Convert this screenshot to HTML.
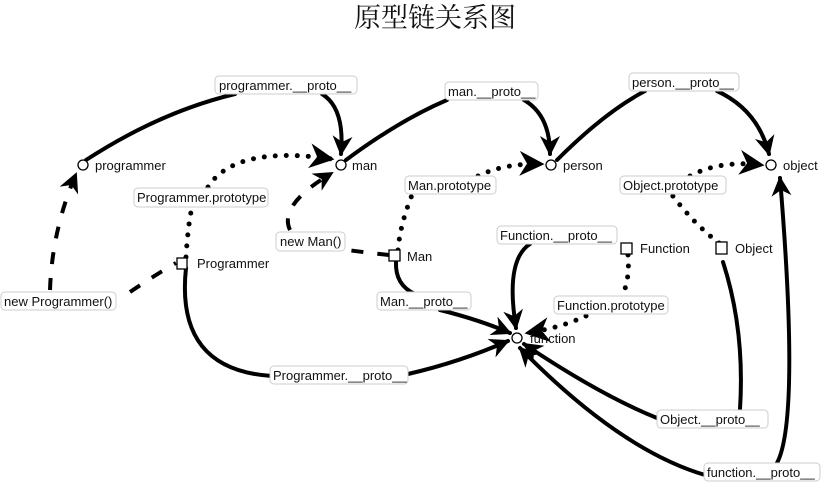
<!DOCTYPE html>
<html><head><meta charset="utf-8"><style>
html,body{margin:0;padding:0;background:#fff;}
svg{display:block;}
text{font-family:"Liberation Sans","DejaVu Sans",sans-serif;font-size:13px;fill:#111;}
.lb rect{fill:#fff;stroke:#ccc;stroke-width:1;}
.s{fill:none;stroke:#000;stroke-width:4;stroke-linecap:round;}
.d{fill:none;stroke:#000;stroke-width:4;stroke-dasharray:12 14;}
.o{fill:none;stroke:#000;stroke-width:5;stroke-dasharray:0 11;stroke-linecap:round;}
</style></head><body>
<svg width="822" height="482" viewBox="0 0 822 482" xmlns="http://www.w3.org/2000/svg">
<defs>
<marker id="a" viewBox="0 0 10 10" refX="9" refY="5" markerWidth="5" markerHeight="5" orient="auto" markerUnits="strokeWidth">
<path d="M0,0 L10,5 L0,10 L3,5 z" fill="#000"/></marker>
</defs>
<text x="435" y="27" text-anchor="middle" style="font-family:'Liberation Serif','Noto Serif CJK SC',serif;font-size:27px">原型链关系图</text>

<path class="s" d="M86,160 Q160,112 235,94"/>
<path class="s" d="M322,94 Q345,108 341,154" marker-end="url(#a)"/>
<path class="s" d="M346,160 Q400,120 447,100"/>
<path class="s" d="M524,100 Q550,115 550,154" marker-end="url(#a)"/>
<path class="s" d="M557,160 Q605,112 645,91"/>
<path class="s" d="M717,91 Q758,110 769,154" marker-end="url(#a)"/>
<path class="s" d="M396,262 Q395,285 415,294"/>
<path class="s" d="M440,310 Q480,320 510,333" marker-end="url(#a)"/>
<path class="s" d="M186,268 Q175,370 272,376"/>
<path class="s" d="M408,374 Q460,362 508,341" marker-end="url(#a)"/>
<path class="s" d="M530,244 Q505,260 516,328" marker-end="url(#a)"/>
<path class="s" d="M723,262 Q745,330 740,409"/>
<path class="s" d="M657,418 Q600,395 524,344" marker-end="url(#a)"/>
<path class="s" d="M705,475 Q620,450 520,348" marker-end="url(#a)"/>
<path class="s" d="M777,463 Q800,420 780,178" marker-end="url(#a)"/>

<path class="d" d="M50,290 Q52,230 76,174" marker-end="url(#a)"/>
<path class="d" d="M130,292 Q155,275 176,263"/>
<path class="d" d="M389,255 Q370,253 347,250"/>
<path class="d" d="M290,230 Q278,205 332,173" marker-end="url(#a)"/>

<path class="o" d="M186,257 Q188,225 192,207"/>
<path class="o" d="M208,187 Q235,145 332,159" marker-end="url(#a)"/>
<path class="o" d="M398,250 Q400,225 412,195"/>
<path class="o" d="M478,176 Q505,163 542,164" marker-end="url(#a)"/>
<path class="o" d="M628,255 Q630,280 622,296"/>
<path class="o" d="M586,316 Q560,328 527,333" marker-end="url(#a)"/>
<path class="o" d="M719,243 Q695,225 672,195"/>
<path class="o" d="M690,176 Q720,160 762,165" marker-end="url(#a)"/>

<g fill="#fff" stroke="#000" stroke-width="1.3">
<circle cx="83" cy="165" r="5"/>
<circle cx="341" cy="165" r="5"/>
<circle cx="551" cy="165" r="5"/>
<circle cx="771" cy="165" r="5"/>
<circle cx="517" cy="338" r="5"/>
<rect x="177" y="258" width="10" height="11"/>
<rect x="389" y="250" width="11" height="11"/>
<rect x="621" y="243" width="11" height="11"/>
<rect x="716" y="242" width="11" height="12"/>
</g>
<text x="95" y="170">programmer</text>
<text x="352" y="170">man</text>
<text x="563" y="170">person</text>
<text x="783" y="170">object</text>
<text x="530" y="343">function</text>
<text x="197" y="268">Programmer</text>
<text x="407" y="261">Man</text>
<text x="640" y="253">Function</text>
<text x="735" y="253">Object</text>

<g class="lb">
<rect x="215" y="76" width="142" height="18" rx="4"/><text x="219" y="90">programmer.__proto__</text>
<rect x="445" y="82" width="93" height="18" rx="4"/><text x="448" y="96">man.__proto__</text>
<rect x="629" y="73" width="110" height="18" rx="4"/><text x="632" y="87">person.__proto__</text>
<rect x="134" y="188" width="134" height="19" rx="4"/><text x="137" y="202">Programmer.prototype</text>
<rect x="405" y="176" width="91" height="18" rx="4"/><text x="408" y="190">Man.prototype</text>
<rect x="620" y="176" width="106" height="18" rx="4"/><text x="623" y="190">Object.prototype</text>
<rect x="276" y="232" width="69" height="19" rx="4"/><text x="280" y="246">new Man()</text>
<rect x="497" y="226" width="120" height="18" rx="4"/><text x="500" y="240">Function.__proto__</text>
<rect x="1" y="292" width="115" height="18" rx="4"/><text x="4" y="306">new Programmer()</text>
<rect x="377" y="292" width="94" height="18" rx="4"/><text x="380" y="306">Man.__proto__</text>
<rect x="554" y="296" width="114" height="18" rx="4"/><text x="557" y="310">Function.prototype</text>
<rect x="270" y="366" width="138" height="18" rx="4"/><text x="273" y="380">Programmer.__proto__</text>
<rect x="657" y="410" width="111" height="18" rx="4"/><text x="660" y="424">Object.__proto__</text>
<rect x="704" y="463" width="116" height="18" rx="4"/><text x="707" y="477">function.__proto__</text>
</g>
</svg>
</body></html>
